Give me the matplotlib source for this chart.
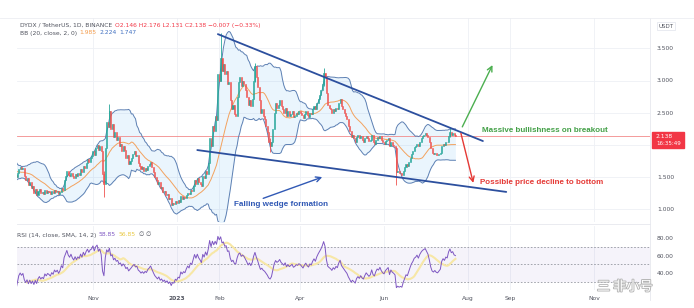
import numpy as np
import pandas as pd
import matplotlib
matplotlib.use("Agg")
import matplotlib.pyplot as plt
import matplotlib.dates as mdates
import matplotlib.transforms as mtransforms
import matplotlib.patheffects as pe
from matplotlib.patches import Rectangle

W, H = 694, 308

# ---------------- data (daily closes, DYDX/USDT) ----------------
first_day = "2022-08-18"
aug22 = [1.78, 1.72, 1.66, 1.70, 1.62, 1.58, 1.60, 1.55, 1.52, 1.49, 1.53, 1.58, 1.62, 1.60]
sep22 = [1.56, 1.55, 1.60, 1.58, 1.54, 1.50, 1.56, 1.63, 1.66, 1.62, 1.64, 1.52, 1.45, 1.48, 1.38,
         1.42, 1.33, 1.36, 1.26, 1.31, 1.22, 1.28, 1.31, 1.25, 1.27, 1.24, 1.30, 1.26, 1.29, 1.27]
oct22 = [1.24, 1.28, 1.25, 1.30, 1.27, 1.29, 1.24, 1.27, 1.33, 1.30, 1.45, 1.52, 1.60, 1.54, 1.51,
         1.57, 1.52, 1.49, 1.55, 1.51, 1.56, 1.54, 1.62, 1.58, 1.68, 1.64, 1.72, 1.78, 1.74, 1.80, 1.82]
nov22 = [1.90, 1.84, 1.95, 2.00, 1.92, 1.98, 1.90, 1.55, 1.40, 1.95, 2.35, 2.28, 2.52, 2.25, 2.32,
         2.12, 2.20, 2.08, 2.12, 1.98, 2.02, 1.90, 1.98, 1.92, 1.80, 1.84, 1.70, 1.75, 1.80, 1.86]
dec22 = [1.90, 1.82, 1.84, 1.72, 1.68, 1.62, 1.65, 1.60, 1.64, 1.61, 1.67, 1.70, 1.74, 1.66, 1.58,
         1.50, 1.45, 1.40, 1.43, 1.33, 1.35, 1.27, 1.29, 1.22, 1.24, 1.16, 1.18, 1.06, 1.10, 1.08, 1.13]
jan23 = [1.10, 1.14, 1.12, 1.20, 1.16, 1.19, 1.17, 1.22, 1.26, 1.23, 1.30, 1.28, 1.36, 1.45, 1.40,
         1.48, 1.43, 1.40, 1.36, 1.52, 1.48, 1.60, 1.55, 1.72, 2.10, 1.98, 2.30, 2.22, 2.45, 2.38, 3.10]
feb23 = [3.00, 3.35, 3.15, 3.25, 3.10, 3.15, 2.95, 2.98, 2.70, 2.55, 2.62, 2.48, 2.45, 2.75, 2.98,
         3.05, 2.92, 3.00, 2.95, 2.85, 2.75, 2.62, 2.70, 2.60, 2.72, 3.00, 3.22, 3.05]
mar23 = [2.90, 2.70, 2.50, 2.55, 2.45, 2.40, 2.30, 2.20, 2.05, 1.98, 2.05, 2.25, 2.50, 2.65, 2.58,
         2.62, 2.70, 2.60, 2.55, 2.50, 2.58, 2.45, 2.52, 2.45, 2.48, 2.52, 2.43, 2.45, 2.50, 2.48, 2.52]
apr23 = [2.50, 2.46, 2.42, 2.48, 2.52, 2.47, 2.44, 2.50, 2.48, 2.55, 2.60, 2.56, 2.65, 2.72, 2.78,
         2.85, 2.95, 3.12, 3.05, 2.80, 2.62, 2.58, 2.55, 2.50, 2.56, 2.52, 2.58, 2.55, 2.65, 2.72]
may23 = [2.60, 2.55, 2.50, 2.45, 2.40, 2.30, 2.22, 2.12, 2.15, 2.10, 2.05, 2.12, 2.15, 2.10, 2.14,
         2.08, 2.05, 2.10, 2.14, 2.10, 2.06, 2.08, 2.15, 2.05, 2.02, 2.08, 2.12, 2.10, 2.14, 2.08, 2.04]
jun23 = [2.02, 2.06, 2.08, 2.10, 1.98, 2.04, 2.00, 1.98, 1.95, 1.58, 1.60, 1.56, 1.57, 1.54, 1.60,
         1.65, 1.70, 1.68, 1.74, 1.80, 1.86, 1.90, 1.96, 1.98, 2.02, 1.98, 2.05, 2.10, 2.14, 2.16]
jul23 = [2.18, 2.15, 2.12, 2.05, 1.95, 1.88, 1.86, 1.88, 1.85, 1.84, 1.86, 1.88, 1.98, 2.02, 2.00,
         2.05, 2.04, 2.14, 2.20, 2.16, 2.18, 2.146, 2.138]

# notable wicks
wick_days = ["2022-11-09", "2022-11-13", "2023-02-02", "2023-02-27", "2023-03-10",
             "2023-04-18", "2023-06-10", "2023-07-19", "2023-07-23"]
wick_highs = [1.60, 2.64, 3.74, 3.27, 2.10, 3.20, 1.96, 2.28, 2.176]
wick_lows = [1.19, 2.40, 3.00, 2.98, 1.89, 2.92, 1.38, 2.12, 2.131]

tick_dates = ["2022-11-01", "2023-01-01", "2023-02-01", "2023-04-01", "2023-06-01",
              "2023-08-01", "2023-09-01", "2023-11-01"]
tick_labels = ["Nov", "2023", "Feb", "Apr", "Jun", "Aug", "Sep", "Nov"]
price_ticks = [1.0, 1.5, 2.5, 3.0, 3.5]
price_grid = [1.0, 1.5, 2.0, 2.5, 3.0, 3.5]
rsi_ticks = [40, 60, 80]

legend_pair = "DYDX / TetherUS, 1D, BINANCE"
legend_ohlc = "O2.146 H2.176 L2.131 C2.138 \u22120.007 (\u22120.33%)"
bb_name = "BB (20, close, 2, 0)"
bb_vals = ["1.985", "2.224", "1.747"]
rsi_name = "RSI (14, close, SMA, 14, 2)"
rsi_vals = ["58.85", "56.85"]
clock = "16:35:49"

# drawing annotations (date, price)
wedge_upper = [("2023-01-31", 3.72), ("2023-08-12", 2.06)]
wedge_lower = [("2023-01-16", 1.92), ("2023-08-29", 1.27)]
arrow_wedge = [("2023-03-05", 1.17), ("2023-04-17", 1.50)]
arrow_bull = [("2023-07-28", 2.28), ("2023-08-19", 3.24)]
arrow_bear = [("2023-07-27", 2.18), ("2023-08-05", 1.41)]
label_wedge = ("2023-02-12", 1.08, "Falling wedge formation")
label_bull = ("2023-08-11", 2.23, "Massive bullishness on breakout")
label_bear = ("2023-08-10", 1.42, "Possible price decline to bottom")

# ---------------- derived series ----------------
closes = aug22 + sep22 + oct22 + nov22 + dec22 + jan23 + feb23 + mar23 + apr23 + may23 + jun23 + jul23
dates = pd.date_range(first_day, periods=len(closes), freq="D")
x = mdates.date2num(dates)
c = np.array(closes)
o = np.r_[c[0], c[:-1]]
up = c >= o

s = pd.Series(c)
basis = s.rolling(20).mean()
sd = s.rolling(20).std(ddof=0)
upper = basis + 2 * sd
lower = basis - 2 * sd

delta = s.diff()
gain = delta.clip(lower=0)
loss = -delta.clip(upper=0)
ag = gain.ewm(alpha=1 / 14, adjust=False, min_periods=14).mean()
al = loss.ewm(alpha=1 / 14, adjust=False, min_periods=14).mean()
rsi = 100 - 100 / (1 + ag / al)
rsi_ma = rsi.rolling(14).mean()

GREEN = "#26a69a"
RED = "#ef5350"
TXT = "#50535e"
GRID = "#eef0f5"

def dn(d):
    return mdates.date2num(pd.Timestamp(d))

# ---------------- figure ----------------
fig = plt.figure(figsize=(W / 100, H / 100), dpi=100)
fig.patch.set_facecolor("white")

def px_rect(l, t, r, b):
    return [l / W, 1 - b / H, (r - l) / W, (b - t) / H]

ax = fig.add_axes(px_rect(17, 18, 650, 222))
axr = fig.add_axes(px_rect(17, 226, 650, 290), sharex=ax)

nov1 = dn("2022-11-01")
ax.set_xlim(nov1 - 55.3, nov1 + 405.7)
ax.set_ylim(1 + (209.3 - 222) / 64.4, 1 + (209.3 - 18) / 64.4)
axr.set_ylim(30 - (290 - 282) / 0.8825, 70 + (246.7 - 226) / 0.8825)

for a in (ax, axr):
    for sp in a.spines.values():
        sp.set_visible(False)
    a.set_facecolor("white")
    for td in tick_dates:
        a.axvline(dn(td), color=GRID, lw=0.6, zorder=0)

for g in price_grid:
    ax.axhline(g, color=GRID, lw=0.6, zorder=0)

# Bollinger bands
ax.fill_between(x, upper, lower, color="#2196F3", alpha=0.09, lw=0, zorder=1)
ax.plot(x, upper, color="#5d80b3", lw=0.7, zorder=2)
ax.plot(x, lower, color="#5d80b3", lw=0.7, zorder=2)
ax.plot(x, basis, color="#f3a25e", lw=0.7, zorder=2)

# candles
cols = np.where(up, GREEN, RED)
ax.bar(x, np.abs(c - o), bottom=np.minimum(c, o), width=0.75, color=cols,
       edgecolor=cols, linewidth=0.4, zorder=3)
wx = np.array([dn(d) for d in wick_days])
widx = np.searchsorted(x, wx)
ax.vlines(wx, wick_lows, wick_highs, colors=[cols[i] for i in widx], lw=0.6, zorder=3)

# current price line
ax.axhline(c[-1], color="#f28b8b", lw=0.6, zorder=1.5)

# wedge lines and arrows
def dp(pt):
    return (dn(pt[0]), pt[1])

WEDGE = "#2c4f9e"
for seg in (wedge_upper, wedge_lower):
    (x0, y0), (x1, y1) = dp(seg[0]), dp(seg[1])
    ax.plot([x0, x1], [y0, y1], color=WEDGE, lw=1.3, solid_capstyle="round", zorder=5)

for seg, col in ((arrow_wedge, "#3159b5"), (arrow_bull, "#4caf50"), (arrow_bear, "#e53935")):
    ax.annotate("", xy=dp(seg[1]), xytext=dp(seg[0]),
                arrowprops=dict(arrowstyle="->", color=col, lw=1.0, mutation_scale=9,
                                shrinkA=0, shrinkB=0), zorder=6)

for lab, col, fs in ((label_wedge, "#3159b5", 5.9), (label_bull, "#43a047", 5.8),
                     (label_bear, "#e53935", 5.8)):
    ax.text(dn(lab[0]), lab[1], lab[2], color=col, fontsize=fs, fontweight="bold",
            family="Liberation Sans", ha="left", va="center", zorder=6)

# price scale
ax.yaxis.tick_right()
ax.set_yticks(price_ticks)
ax.set_yticklabels([f"{v:.3f}" for v in price_ticks])
ax.tick_params(axis="y", length=0, pad=5, labelsize=4.3, labelcolor=TXT)
ax.tick_params(axis="x", length=0, labelbottom=False)

# RSI panel
axr.axhspan(30, 70, color="#7e57c2", alpha=0.07, lw=0, zorder=0)
for lvl in (70, 50, 30):
    axr.axhline(lvl, color="#9598a1", lw=0.6, ls=(0, (2, 2)), zorder=1)
axr.plot(x, rsi_ma, color="#f7e7a6", lw=1.5, zorder=2)
axr.plot(x, rsi, color="#7e57c2", lw=0.7, zorder=3)
axr.yaxis.tick_right()
axr.set_yticks(rsi_ticks)
axr.set_yticklabels([f"{v:.2f}" for v in rsi_ticks])
axr.tick_params(axis="y", length=0, pad=5, labelsize=4.3, labelcolor=TXT)
axr.set_xticks([dn(t) for t in tick_dates])
axr.set_xticklabels(tick_labels)
axr.tick_params(axis="x", length=0, pad=4, labelsize=4.3, labelcolor=TXT)
for tl in axr.get_xticklabels():
    if tl.get_text() == "2023":
        tl.set_fontweight("bold")

# separators
fig.add_artist(plt.Line2D([650 / W, 650 / W], [1 - 300 / H, 1 - 18 / H], color="#e6e8ee", lw=0.6))
fig.add_artist(plt.Line2D([17 / W, 650 / W], [1 - 224 / H, 1 - 224 / H], color="#e6e8ee", lw=0.6))
fig.add_artist(plt.Line2D([0, 1], [1 - 18 / H, 1 - 18 / H], color="#eceef2", lw=0.6))

# last price tag
bt = mtransforms.blended_transform_factory(fig.transFigure, ax.transData)
ppx = 64.4
ax.add_patch(Rectangle((652 / W, c[-1] - 12 / ppx), 32 / W, 16 / ppx, transform=bt,
                       color="#f23645", clip_on=False, zorder=10))
ax.text(656 / W, c[-1], f"{c[-1]:.3f}", transform=bt, color="white", fontsize=4.3,
        ha="left", va="center", clip_on=False, zorder=11)
ax.text(656 / W, c[-1] - 7 / ppx, clock, transform=bt, color="white", fontsize=4.0,
        ha="left", va="center", clip_on=False, zorder=11)

fig.text(666 / W, 1 - 26 / H, "USDT", fontsize=4.0, color=TXT, ha="center", va="center",
         bbox=dict(boxstyle="square,pad=0.35", fc="white", ec="#e0e3eb", lw=0.5))

# legends
renderer = fig.canvas.get_renderer()

def chain(x_px, y_px, parts, fs=4.3, gap=2.5):
    xp = x_px
    for txt, col in parts:
        t = fig.text(xp / W, 1 - y_px / H, txt, color=col, fontsize=fs, ha="left", va="center")
        bb = t.get_window_extent(renderer)
        xp += bb.width + gap

chain(20, 25, [(legend_pair, TXT), (legend_ohlc, "#f23645")])
chain(20, 33, [(bb_name, TXT), (bb_vals[0], "#f39b4b"), (bb_vals[1], "#3f6fc0"), (bb_vals[2], "#3f6fc0")])
chain(17, 235, [(rsi_name, TXT), (rsi_vals[0], "#7e57c2"), (rsi_vals[1], "#e8c840"),
                ("\u2205", TXT), ("\u2205", TXT)])

# watermark
fig.text(597 / W, 1 - 287 / H, "\u4e09 \u975e\u5c0f\u53f7", family=["Noto Sans CJK SC", "DejaVu Sans"],
         fontsize=9.5, color="white", ha="left", va="center", zorder=20,
         path_effects=[pe.withStroke(linewidth=1.3, foreground="#b5b5b5")])

fig.savefig("out.png", dpi=100, facecolor="white")
